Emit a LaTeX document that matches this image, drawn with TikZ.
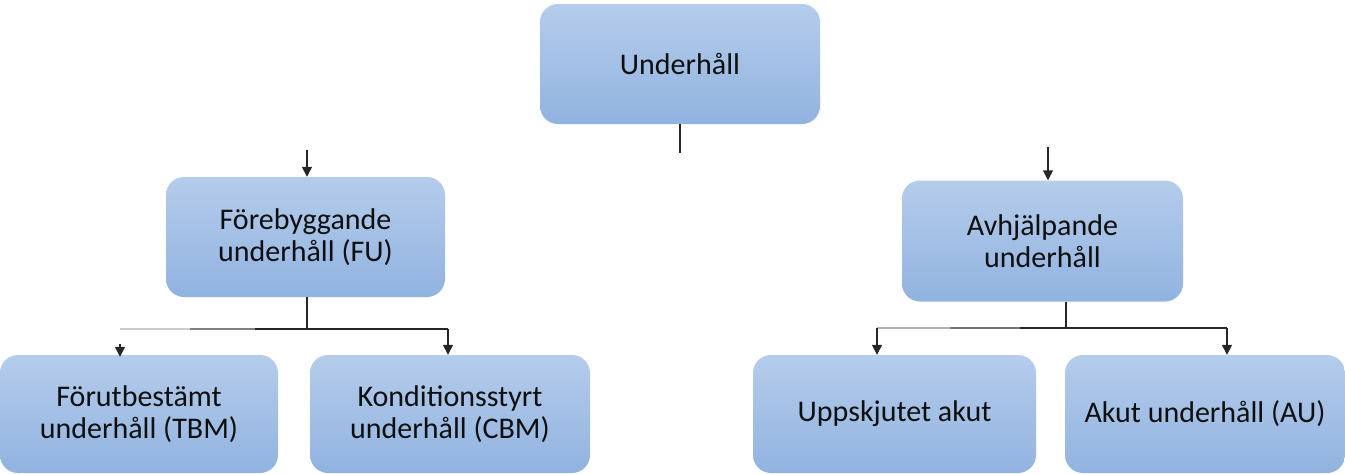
\documentclass[tikz,border=0pt]{standalone}
\usepackage{fontspec}
\setmainfont{Carlito}
\usetikzlibrary{arrows.meta}
\definecolor{boxtop}{RGB}{181,204,235}
\definecolor{boxbot}{RGB}{145,179,224}
\definecolor{txt}{RGB}{15,15,15}
\tikzset{
  box/.style={rounded corners=18pt, top color=boxtop, bottom color=boxbot, draw=none,
    inner sep=0pt, align=center, text=txt, font=\fontsize{30}{32.5}\selectfont},
  conn/.style={line width=1.4pt, draw=black!85},
  arr/.style={conn, -{Triangle[width=10pt,length=10pt]}},
}
\begin{document}
\begin{tikzpicture}[x=1pt,y=-1pt]
\useasboundingbox (0,0) rectangle (1345,474);
% boxes
\node[box, minimum width=280pt, minimum height=120pt] (U) at (680,64) {Underhåll};
\node[box, minimum width=279pt, minimum height=120pt] (FU) at (305.5,237) {Förebyggande\\underhåll (FU)};
\node[box, minimum width=281pt, minimum height=121pt] (AV) at (1042.5,241) {Avhjälpande\\underhåll};
\node[box, minimum width=278pt, minimum height=118pt] (TBM) at (139,414) {Förutbestämt\\underhåll (TBM)};
\node[box, minimum width=280pt, minimum height=118pt] (CBM) at (450,414) {Konditionsstyrt\\underhåll (CBM)};
\node[box, minimum width=283pt, minimum height=118pt] (UA) at (894.5,414) {Uppskjutet akut};
\node[box, minimum width=280pt, minimum height=118pt] (AU) at (1205,414) {Akut underhåll (AU)};
% coordinates
\coordinate (Ubot) at (680,153);
\coordinate (FUin) at (307,150);
\coordinate (AVin) at (1048,147);
\coordinate (FUj) at (307,329);
\coordinate (FUl) at (120,329);
\coordinate (FUl1) at (190,329);
\coordinate (FUl2) at (255,329);
\coordinate (FUr) at (448,329);
\coordinate (TBMs) at (120,344);
\coordinate (AVj) at (1066,328);
\coordinate (AVl) at (877,328);
\coordinate (AVl1) at (950,328);
\coordinate (AVl2) at (1020,328);
\coordinate (AVr) at (1227,328);
% connectors
\draw[conn] (U.south -| Ubot) -- (Ubot);
\draw[arr] (FUin) -- (FUin |- FU.north);
\draw[arr] (AVin) -- (AVin |- AV.north);
\draw[conn] (FU.south -| FUj) -- (FUj);
\draw[conn, draw=black!20] (FUl) -- (FUl1);
\draw[conn, draw=black!50] (FUl1) -- (FUl2);
\draw[conn] (FUl2) -- (FUr);
\draw[arr] (FUr) -- (FUr |- CBM.north);
\draw[arr] (TBMs) -- ([yshift=-2pt]TBMs |- TBM.north);
\draw[conn] (AV.south -| AVj) -- (AVj);
\draw[conn, draw=black!30] (AVl) -- (AVl1);
\draw[conn, draw=black!55] (AVl1) -- (AVl2);
\draw[conn] (AVl2) -- (AVr);
\draw[arr] (AVl) -- (AVl |- UA.north);
\draw[arr] (AVr) -- (AVr |- AU.north);
\end{tikzpicture}
\end{document}
